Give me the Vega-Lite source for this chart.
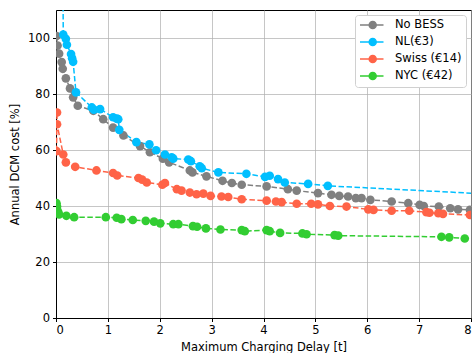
{
  "$schema": "https://vega.github.io/schema/vega-lite/v6.json",
  "width": 415,
  "height": 308,
  "autosize": {"type": "none"},
  "padding": {"left": 56, "top": 10, "right": 2, "bottom": 35},
  "background": "white",
  "config": {
    "font": "DejaVu Sans",
    "view": {"stroke": "black", "strokeWidth": 1},
    "axis": {
      "labelFont": "DejaVu Sans", "titleFont": "DejaVu Sans",
      "labelFontSize": 11.5, "titleFontSize": 11.5, "titleFontWeight": "normal",
      "labelColor": "black", "titleColor": "black",
      "gridColor": "#b0b0b0", "gridWidth": 0.8, "gridOpacity": 0.9,
      "domainColor": "black", "tickColor": "black", "tickSize": 3.5
    }
  },
  "data": {"values": [
    {"s": "No BESS", "x": 0.01, "y": 100.7},
    {"s": "No BESS", "x": 0.03, "y": 97.3},
    {"s": "No BESS", "x": 0.06, "y": 94.4},
    {"s": "No BESS", "x": 0.11, "y": 91.4},
    {"s": "No BESS", "x": 0.13, "y": 89.0},
    {"s": "No BESS", "x": 0.19, "y": 85.6},
    {"s": "No BESS", "x": 0.27, "y": 82.0},
    {"s": "No BESS", "x": 0.33, "y": 78.8},
    {"s": "No BESS", "x": 0.42, "y": 75.8},
    {"s": "No BESS", "x": 0.72, "y": 74.0},
    {"s": "No BESS", "x": 0.91, "y": 71.0},
    {"s": "No BESS", "x": 1.1, "y": 68.0},
    {"s": "No BESS", "x": 1.3, "y": 65.2},
    {"s": "No BESS", "x": 1.62, "y": 61.4},
    {"s": "No BESS", "x": 1.81, "y": 59.2},
    {"s": "No BESS", "x": 2.06, "y": 56.9},
    {"s": "No BESS", "x": 2.18, "y": 55.6},
    {"s": "No BESS", "x": 2.58, "y": 52.7},
    {"s": "No BESS", "x": 2.63, "y": 52.0},
    {"s": "No BESS", "x": 2.9, "y": 50.6},
    {"s": "No BESS", "x": 3.21, "y": 49.0},
    {"s": "No BESS", "x": 3.39, "y": 48.2},
    {"s": "No BESS", "x": 3.58, "y": 47.6},
    {"s": "No BESS", "x": 4.06, "y": 47.0},
    {"s": "No BESS", "x": 4.47, "y": 46.0},
    {"s": "No BESS", "x": 4.64, "y": 45.5},
    {"s": "No BESS", "x": 5.05, "y": 44.6},
    {"s": "No BESS", "x": 5.31, "y": 44.0},
    {"s": "No BESS", "x": 5.46, "y": 43.6},
    {"s": "No BESS", "x": 5.63, "y": 43.4},
    {"s": "No BESS", "x": 5.78, "y": 42.8},
    {"s": "No BESS", "x": 5.89, "y": 42.8},
    {"s": "No BESS", "x": 6.06, "y": 42.2},
    {"s": "No BESS", "x": 6.47, "y": 41.6},
    {"s": "No BESS", "x": 6.79, "y": 41.0},
    {"s": "No BESS", "x": 7.01, "y": 40.4},
    {"s": "No BESS", "x": 7.09, "y": 40.0},
    {"s": "No BESS", "x": 7.38, "y": 39.8},
    {"s": "No BESS", "x": 7.6, "y": 39.2},
    {"s": "No BESS", "x": 7.75, "y": 38.8},
    {"s": "No BESS", "x": 7.98, "y": 38.6},

    {"s": "NL(€3)", "x": 0.12, "y": 160},
    {"s": "NL(€3)", "x": 0.14, "y": 101.2},
    {"s": "NL(€3)", "x": 0.19, "y": 99.7},
    {"s": "NL(€3)", "x": 0.21, "y": 97.6},
    {"s": "NL(€3)", "x": 0.29, "y": 94.3},
    {"s": "NL(€3)", "x": 0.31, "y": 92.8},
    {"s": "NL(€3)", "x": 0.33, "y": 91.5},
    {"s": "NL(€3)", "x": 0.385, "y": 80.6},
    {"s": "NL(€3)", "x": 0.69, "y": 75.2},
    {"s": "NL(€3)", "x": 0.73, "y": 74.4},
    {"s": "NL(€3)", "x": 0.85, "y": 74.6},
    {"s": "NL(€3)", "x": 1.1, "y": 71.7},
    {"s": "NL(€3)", "x": 1.17, "y": 71.2},
    {"s": "NL(€3)", "x": 1.2, "y": 71.0},
    {"s": "NL(€3)", "x": 1.22, "y": 67.2},
    {"s": "NL(€3)", "x": 1.55, "y": 62.8},
    {"s": "NL(€3)", "x": 1.8, "y": 62.0},
    {"s": "NL(€3)", "x": 1.93, "y": 59.9},
    {"s": "NL(€3)", "x": 2.1, "y": 58.4},
    {"s": "NL(€3)", "x": 2.23, "y": 57.4},
    {"s": "NL(€3)", "x": 2.26, "y": 56.9},
    {"s": "NL(€3)", "x": 2.55, "y": 56.6},
    {"s": "NL(€3)", "x": 2.6, "y": 56.0},
    {"s": "NL(€3)", "x": 2.77, "y": 54.2},
    {"s": "NL(€3)", "x": 2.81, "y": 53.5},
    {"s": "NL(€3)", "x": 3.13, "y": 52.0},
    {"s": "NL(€3)", "x": 3.67, "y": 51.5},
    {"s": "NL(€3)", "x": 4.03, "y": 50.4},
    {"s": "NL(€3)", "x": 4.12, "y": 50.8},
    {"s": "NL(€3)", "x": 4.28, "y": 49.6},
    {"s": "NL(€3)", "x": 4.41, "y": 48.4},
    {"s": "NL(€3)", "x": 4.86, "y": 47.9},
    {"s": "NL(€3)", "x": 5.24, "y": 47.2},
    {"s": "NL(€3)", "x": 8.4, "y": 44.2},

    {"s": "Swiss (€14)", "x": 0.02, "y": 73.4},
    {"s": "Swiss (€14)", "x": 0.02, "y": 69.2},
    {"s": "Swiss (€14)", "x": 0.01, "y": 59.6},
    {"s": "Swiss (€14)", "x": 0.14, "y": 58.4},
    {"s": "Swiss (€14)", "x": 0.19, "y": 55.6},
    {"s": "Swiss (€14)", "x": 0.37, "y": 54.0},
    {"s": "Swiss (€14)", "x": 0.78, "y": 52.7},
    {"s": "Swiss (€14)", "x": 1.1, "y": 51.8},
    {"s": "Swiss (€14)", "x": 1.18, "y": 50.9},
    {"s": "Swiss (€14)", "x": 1.59, "y": 50.0},
    {"s": "Swiss (€14)", "x": 1.66, "y": 49.4},
    {"s": "Swiss (€14)", "x": 1.75, "y": 48.4},
    {"s": "Swiss (€14)", "x": 2.05, "y": 47.6},
    {"s": "Swiss (€14)", "x": 2.1, "y": 48.2},
    {"s": "Swiss (€14)", "x": 2.33, "y": 46.0},
    {"s": "Swiss (€14)", "x": 2.42, "y": 45.5},
    {"s": "Swiss (€14)", "x": 2.58, "y": 44.8},
    {"s": "Swiss (€14)", "x": 2.71, "y": 44.2},
    {"s": "Swiss (€14)", "x": 2.84, "y": 44.4},
    {"s": "Swiss (€14)", "x": 2.98, "y": 43.6},
    {"s": "Swiss (€14)", "x": 3.19, "y": 43.4},
    {"s": "Swiss (€14)", "x": 3.32, "y": 43.2},
    {"s": "Swiss (€14)", "x": 3.58, "y": 42.4},
    {"s": "Swiss (€14)", "x": 4.06, "y": 41.9},
    {"s": "Swiss (€14)", "x": 4.24, "y": 41.6},
    {"s": "Swiss (€14)", "x": 4.35, "y": 41.4},
    {"s": "Swiss (€14)", "x": 4.64, "y": 40.8},
    {"s": "Swiss (€14)", "x": 4.92, "y": 40.8},
    {"s": "Swiss (€14)", "x": 5.05, "y": 40.6},
    {"s": "Swiss (€14)", "x": 5.28, "y": 40.0},
    {"s": "Swiss (€14)", "x": 5.6, "y": 39.8},
    {"s": "Swiss (€14)", "x": 6.02, "y": 38.8},
    {"s": "Swiss (€14)", "x": 6.12, "y": 38.6},
    {"s": "Swiss (€14)", "x": 6.47, "y": 38.3},
    {"s": "Swiss (€14)", "x": 6.81, "y": 38.3},
    {"s": "Swiss (€14)", "x": 7.14, "y": 37.8},
    {"s": "Swiss (€14)", "x": 7.2, "y": 37.6},
    {"s": "Swiss (€14)", "x": 7.37, "y": 37.4},
    {"s": "Swiss (€14)", "x": 7.46, "y": 37.2},
    {"s": "Swiss (€14)", "x": 7.98, "y": 36.8},

    {"s": "NYC (€42)", "x": 0.01, "y": 41.0},
    {"s": "NYC (€42)", "x": 0.02, "y": 39.8},
    {"s": "NYC (€42)", "x": 0.04, "y": 38.0},
    {"s": "NYC (€42)", "x": 0.06, "y": 37.0},
    {"s": "NYC (€42)", "x": 0.2, "y": 36.5},
    {"s": "NYC (€42)", "x": 0.35, "y": 36.0},
    {"s": "NYC (€42)", "x": 0.96, "y": 36.0},
    {"s": "NYC (€42)", "x": 1.17, "y": 35.8},
    {"s": "NYC (€42)", "x": 1.26, "y": 35.3},
    {"s": "NYC (€42)", "x": 1.48, "y": 35.0},
    {"s": "NYC (€42)", "x": 1.73, "y": 34.7},
    {"s": "NYC (€42)", "x": 1.89, "y": 34.4},
    {"s": "NYC (€42)", "x": 2.01, "y": 33.8},
    {"s": "NYC (€42)", "x": 2.26, "y": 33.5},
    {"s": "NYC (€42)", "x": 2.36, "y": 33.5},
    {"s": "NYC (€42)", "x": 2.64, "y": 32.8},
    {"s": "NYC (€42)", "x": 2.72, "y": 32.6},
    {"s": "NYC (€42)", "x": 2.89, "y": 32.0},
    {"s": "NYC (€42)", "x": 3.17, "y": 31.6},
    {"s": "NYC (€42)", "x": 3.58, "y": 31.4},
    {"s": "NYC (€42)", "x": 3.64, "y": 31.0},
    {"s": "NYC (€42)", "x": 4.06, "y": 31.4},
    {"s": "NYC (€42)", "x": 4.12, "y": 31.0},
    {"s": "NYC (€42)", "x": 4.32, "y": 30.4},
    {"s": "NYC (€42)", "x": 4.75, "y": 30.2},
    {"s": "NYC (€42)", "x": 4.83, "y": 29.9},
    {"s": "NYC (€42)", "x": 5.37, "y": 29.6},
    {"s": "NYC (€42)", "x": 5.44, "y": 29.4},
    {"s": "NYC (€42)", "x": 7.43, "y": 29.0},
    {"s": "NYC (€42)", "x": 7.58, "y": 28.8},
    {"s": "NYC (€42)", "x": 7.88, "y": 28.4}
  ]},
  "mark": {
    "type": "line",
    "clip": true,
    "strokeWidth": 1.5,
    "strokeDash": [5.5, 2.5],
    "point": {"filled": true, "size": 75, "opacity": 1}
  },
  "encoding": {
    "x": {
      "field": "x", "type": "quantitative",
      "scale": {"domain": [0, 8], "nice": false, "zero": false},
      "axis": {"values": [0,1,2,3,4,5,6,7,8], "title": "Maximum Charging Delay [t]", "titlePadding": 5, "labelPadding": 3}
    },
    "y": {
      "field": "y", "type": "quantitative",
      "scale": {"domain": [0, 110], "nice": false},
      "axis": {"values": [0,20,40,60,80,100], "title": "Annual DCM cost [%]", "titlePadding": 7, "labelPadding": 3}
    },
    "color": {
      "field": "s", "type": "nominal",
      "scale": {
        "domain": ["No BESS", "NL(€3)", "Swiss (€14)", "NYC (€42)"],
        "range": ["#808080", "#00bfff", "#ff6347", "#32cd32"]
      },
      "legend": {
        "title": null,
        "orient": "top-right",
        "offset": 5,
        "fillColor": "white",
        "strokeColor": "#d0d0d0",
        "cornerRadius": 3,
        "padding": 4,
        "labelFont": "DejaVu Sans",
        "labelFontSize": 11.5,
        "labelColor": "black",
        "symbolType": "M-1,0H1.4M2.3,0H3.7M2.24,0A0.7,0.7,0,1,1,0.84,0A0.7,0.7,0,1,1,2.24,0Z",
        "symbolSize": 100,
        "symbolStrokeWidth": 1.5,
        "rowPadding": 3,
        "labelOffset": 24,
        "encode": {
          "symbols": {"update": {"stroke": {"scale": "color", "field": "value"}, "opacity": {"value": 1}}}
        }
      }
    }
  }
}
